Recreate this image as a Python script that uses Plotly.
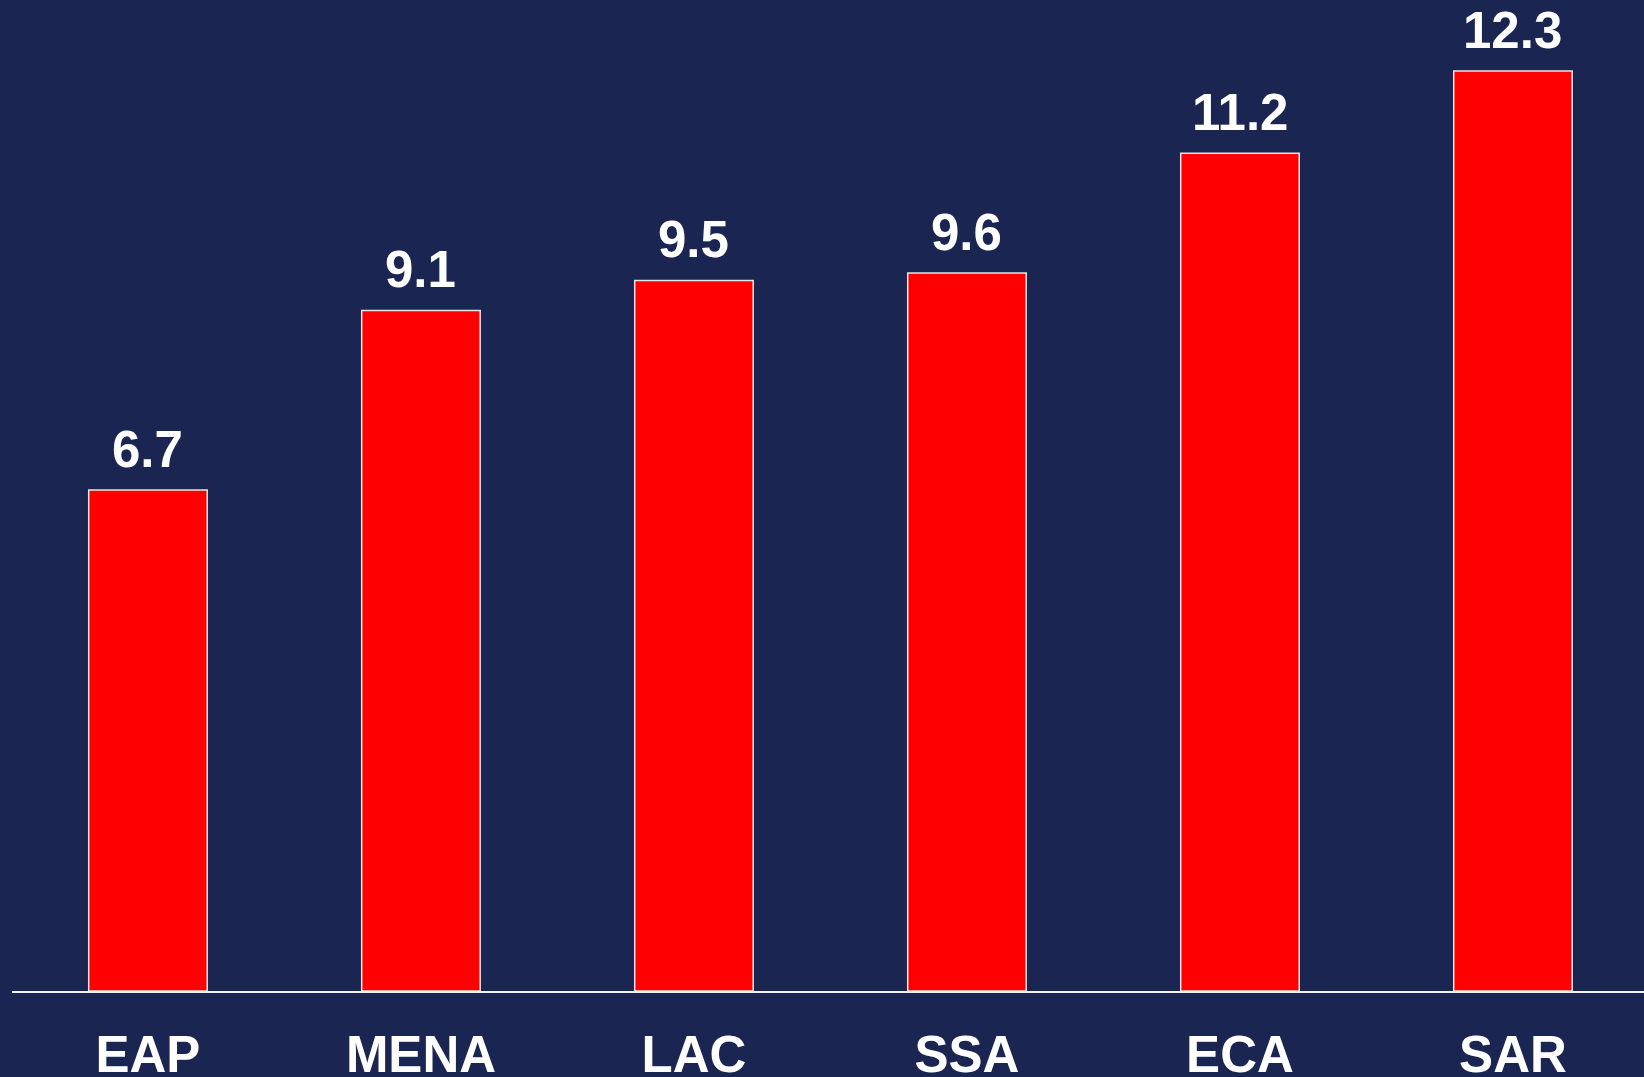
import plotly.graph_objects as go

regions = ["EAP", "MENA", "LAC", "SSA", "ECA", "SAR"]
values = [6.7, 9.1, 9.5, 9.6, 11.2, 12.3]
labels = ["6.7", "9.1", "9.5", "9.6", "11.2", "12.3"]

BG = "#1b2552"
FONT = "Liberation Sans, Arial, sans-serif"

fig = go.Figure()
fig.add_trace(go.Bar(
    x=regions, y=values,
    marker=dict(color="#ff0000", line=dict(color="#e6e6e6", width=1.5)),
    width=0.434,
    hoverinfo="skip",
))

for r, v, t in zip(regions, values, labels):
    fig.add_annotation(x=r, y=v, text=t, showarrow=False, yanchor="bottom",
                       yshift=10, font=dict(family=FONT, size=51, color="white", weight="bold"))

fig.update_layout(
    width=1644, height=1077,
    paper_bgcolor=BG, plot_bgcolor=BG,
    margin=dict(l=12, r=0, t=0, b=86, autoexpand=False),
    showlegend=False,
    bargap=0.566,
    xaxis=dict(
        range=[-0.498, 5.48],
        automargin=False,
        showgrid=False, zeroline=False,
        showline=True, linecolor="#f0f0f0", linewidth=2,
        ticks="", ticklabelstandoff=18,
        tickfont=dict(family=FONT, size=51, color="white", weight="bold"),
    ),
    yaxis=dict(
        range=[0, 13.25], showgrid=False, zeroline=False, automargin=False,
        showticklabels=False, showline=False,
    ),
)

post = ("document.body.style.margin='0';document.body.style.padding='0';"
        "document.body.style.overflow='hidden';"
        "document.documentElement.style.background='%s';"
        "document.body.style.background='%s';" % (BG, BG))

fig.write_html("out.html", post_script=post, config={"displayModeBar": False})
